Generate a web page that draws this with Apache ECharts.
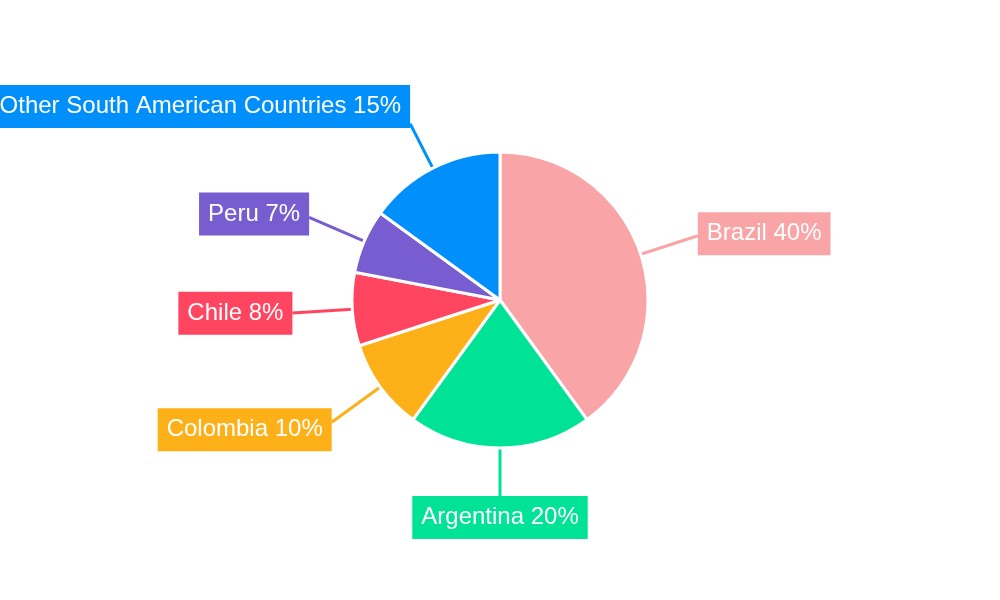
<!DOCTYPE html>
<html><head><meta charset="utf-8">
<script src="https://cdn.jsdelivr.net/npm/echarts@6/dist/echarts.min.js"></script>
<style>html,body{margin:0;padding:0;background:#fff}#c{width:1000px;height:600px}</style>
</head><body><div id="c"></div>
<script>
const categories = ['Brazil','Argentina','Colombia','Chile','Peru','Other South American Countries'];
const values = [40,20,10,8,7,15];
const colors = ['#F9A4A6','#00E396','#FEB019','#FF4560','#775DD0','#008FFB'];
const lineLengths = [60,48,60,60,60,50];

const chart = echarts.init(document.getElementById('c'));
chart.setOption({
  backgroundColor:'#fff',
  animation:false,
  series:[{
    type:'pie',
    center:[500,300],
    radius:[0,148],
    startAngle:90,
    clockwise:true,
    avoidLabelOverlap:false,
    itemStyle:{borderColor:'#fff',borderWidth:3},
    label:{
      show:true,
      formatter:'{b} {c}%',
      color:'#fff',
      fontSize:24,
      fontFamily:'Liberation Sans, Arial, sans-serif',
      padding:[9,9,10,9],
      distanceToLabelLine:0
    },
    labelLine:{show:true,length:60,length2:0,lineStyle:{width:3}},
    labelLayout: function(p){
      const pts = p.labelLinePoints;
      if(!pts) return {};
      const s = pts[0], e = pts[pts.length-1];
      const dx = e[0]-s[0], dy = e[1]-s[1];
      const len = Math.hypot(dx,dy) || 1;
      const ux = dx/len, uy = dy/len;
      const h = p.labelRect.height;
      const out = {dy: uy*Math.abs(uy)*h/2};
      if(Math.abs(ux) < 0.1){ out.align = 'center'; }
      return out;
    },
    data:categories.map((n,i)=>({
      name:n,value:values[i],
      itemStyle:{color:colors[i]},
      label:{backgroundColor:colors[i]},
      labelLine:{length:lineLengths[i]}
    }))
  }]
});
</script></body></html>
